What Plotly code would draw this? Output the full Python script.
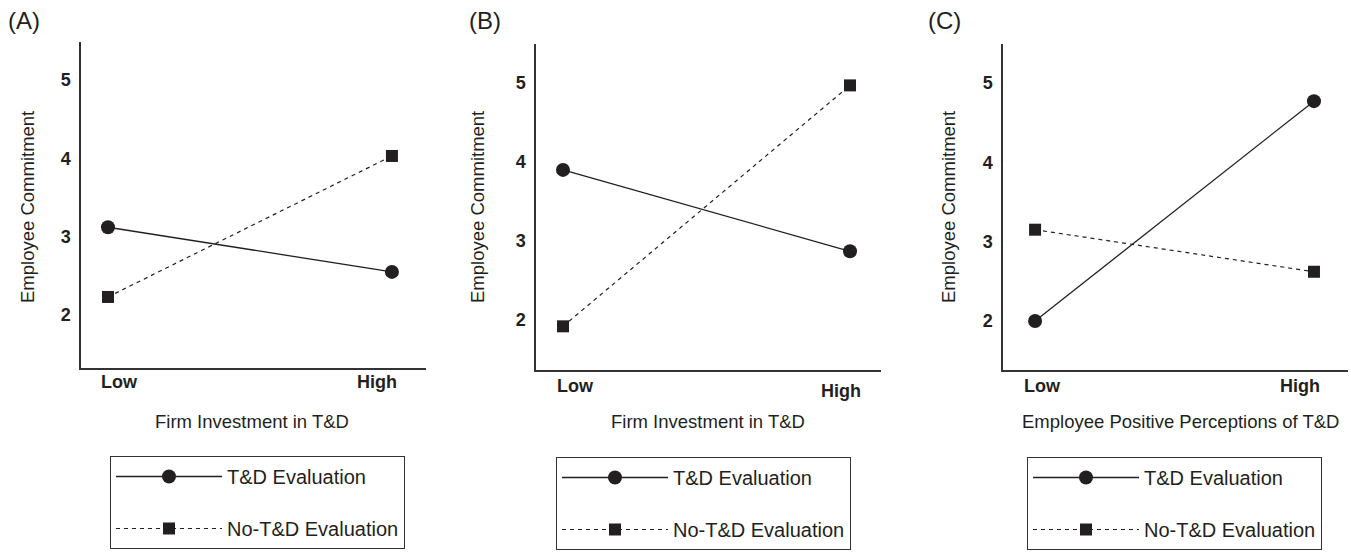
import plotly.graph_objects as go

# ---------------- data ----------------
levels = ["Low", "High"]
x_pos = [0, 1]
panel_labels = ["(A)", "(B)", "(C)"]
x_titles = ["Firm Investment in T&D", "Firm Investment in T&D",
            "Employee Positive Perceptions of T&D"]
y_title = "Employee Commitment"
series_names = ["T&D Evaluation", "No-T&D Evaluation"]
y_ticks = [2, 3, 4, 5]

td_eval_A = [3.12, 2.55]
no_td_eval_A = [2.23, 4.03]
td_eval_B = [3.90, 2.87]
no_td_eval_B = [1.92, 4.97]
td_eval_C = [2.00, 4.77]
no_td_eval_C = [3.15, 2.62]

series = [(td_eval_A, no_td_eval_A), (td_eval_B, no_td_eval_B), (td_eval_C, no_td_eval_C)]

# ---------------- layout (pixels) ----------------
W, H = 1351, 553
FONT = "Liberation Sans, Arial, Helvetica, sans-serif"
INK = "#231f20"

panels = [
    dict(l=81, r=426, t=42, b=368, xr=[-0.095, 1.12], yr=[1.323, 5.485],
         lo=0.042, hi=0.947, lo_y=382, hi_y=382, xt=252, yt=27, pl=6, lg=(110, 456)),
    dict(l=536, r=881, t=44, b=370, xr=[-0.094, 1.108], yr=[1.367, 5.494],
         lo=0.042, hi=0.969, lo_y=386, hi_y=391, xt=708, yt=477, pl=467, lg=(556, 457)),
    dict(l=1003, r=1348, t=44, b=370, xr=[-0.115, 1.122], yr=[1.382, 5.49],
         lo=0.025, hi=0.95, lo_y=386, hi_y=386, xt=1180, yt=948, pl=926, lg=(1027, 457)),
]

def px_x(p):
    return p / W

def px_y(p):
    return 1 - p / H

fig = go.Figure()
annotations = []
legend_keys = ["legend", "legend2", "legend3"]

for i, (p, (s1, s2)) in enumerate(zip(panels, series)):
    sfx = "" if i == 0 else str(i + 1)
    xa, ya = "x" + sfx, "y" + sfx
    fig.add_trace(go.Scatter(
        x=x_pos, y=s1, name=series_names[0], xaxis=xa, yaxis=ya,
        mode="lines+markers", legend=legend_keys[i], legendgroup=f"a{i}",
        line=dict(color=INK, width=1.3),
        marker=dict(symbol="circle", size=14, color=INK),
        hoverinfo="skip"))
    fig.add_trace(go.Scatter(
        x=x_pos, y=s2, name=series_names[1], xaxis=xa, yaxis=ya,
        mode="lines+markers", legend=legend_keys[i], legendgroup=f"b{i}",
        line=dict(color=INK, width=1.2, dash="4px,4px"),
        marker=dict(symbol="square", size=12, color=INK),
        hoverinfo="skip"))

    axis_common = dict(showgrid=False, zeroline=False, showline=True,
                       linecolor="#333333", linewidth=1.5, mirror=False)
    fig.update_layout(**{
        "xaxis" + sfx: dict(domain=[px_x(p["l"]), px_x(p["r"])], range=p["xr"],
                            showticklabels=False, anchor=ya, **axis_common),
        "yaxis" + sfx: dict(domain=[px_y(p["b"]), px_y(p["t"])], range=p["yr"],
                            tickvals=y_ticks, ticktext=[str(v) for v in y_ticks],
                            ticks="", ticklabelstandoff=5, anchor=xa,
                            tickfont=dict(family=FONT, size=18, color=INK, weight="bold"),
                            **axis_common),
    })

    # Low / High level labels
    annotations.append(dict(x=p["lo"], y=px_y(p["lo_y"]), xref=xa, yref="paper",
                            xanchor="center", yanchor="middle",
                            text=f"<b>{levels[0]}</b>", showarrow=False,
                            font=dict(family=FONT, size=18, color=INK)))
    annotations.append(dict(x=p["hi"], y=px_y(p["hi_y"]), xref=xa, yref="paper",
                            xanchor="center", yanchor="middle",
                            text=f"<b>{levels[1]}</b>", showarrow=False,
                            font=dict(family=FONT, size=18, color=INK)))
    # x title
    annotations.append(dict(x=px_x(p["xt"]), y=px_y(421), xref="paper", yref="paper",
                            xanchor="center", yanchor="middle",
                            text=x_titles[i], showarrow=False,
                            font=dict(family=FONT, size=18.5, color=INK)))
    # y title
    annotations.append(dict(x=px_x(p["yt"]), y=px_y(207), xref="paper", yref="paper",
                            xanchor="center", yanchor="middle",
                            text=y_title, showarrow=False, textangle=-90,
                            font=dict(family=FONT, size=18.5, color=INK)))
    # panel label
    annotations.append(dict(x=px_x(p["pl"]), y=px_y(21), xref="paper", yref="paper",
                            xanchor="left", yanchor="middle",
                            text=panel_labels[i], showarrow=False,
                            font=dict(family=FONT, size=24, color=INK)))

    fig.update_layout(**{
        legend_keys[i]: dict(
            x=px_x(p["lg"][0]), y=px_y(p["lg"][1]), xanchor="left", yanchor="top",
            bordercolor="#333333", borderwidth=1, bgcolor="white",
            font=dict(family=FONT, size=20, color=INK),
            itemwidth=106, tracegroupgap=23, itemsizing="trace",
            traceorder="grouped"),
    })

fig.update_layout(
    width=W, height=H, margin=dict(l=0, r=0, t=0, b=0),
    paper_bgcolor="white", plot_bgcolor="white",
    showlegend=True, annotations=annotations,
    font=dict(family=FONT, color=INK),
)

fig.write_html("out.html", config={"displayModeBar": False},
               post_script="document.body.style.margin='0';document.body.style.overflow='hidden';")
